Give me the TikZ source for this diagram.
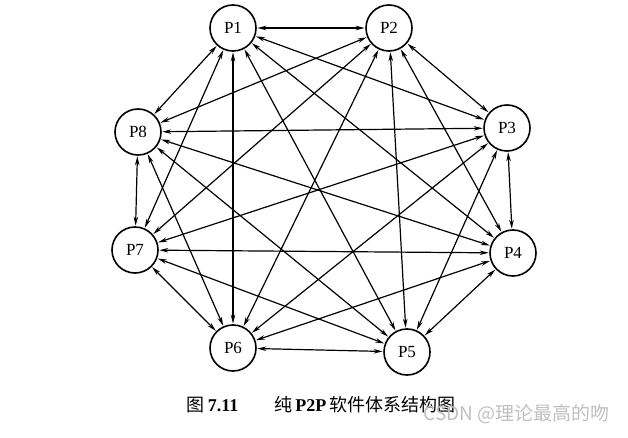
\documentclass[tikz,border=0pt]{standalone}
\usepackage{fontspec}
\setmainfont{Liberation Serif}
\newfontfamily\cjk{Noto Sans CJK SC}
\usetikzlibrary{arrows.meta}
\begin{document}
\begin{tikzpicture}[x=1pt,y=-1pt,
  peer/.style={circle,draw,line width=1.6pt,minimum size=46pt,inner sep=0pt,font=\fontsize{17}{17}\selectfont},
  link/.style={line width=1.2pt,{Stealth[length=9pt,width=4.5pt]}-{Stealth[length=9pt,width=4.5pt]},shorten <=0.5pt,shorten >=0.5pt}]
\useasboundingbox (0,0) rectangle (628,438);
\node[peer] (P1) at (233,28) {P1};
\node[peer] (P2) at (389,28) {P2};
\node[peer] (P3) at (507,128) {P3};
\node[peer] (P4) at (513,253) {P4};
\node[peer] (P5) at (407,352) {P5};
\node[peer] (P6) at (233,348) {P6};
\node[peer] (P7) at (135,250) {P7};
\node[peer] (P8) at (138,132) {P8};
\foreach \a/\b in {1/2,1/3,1/4,1/5,1/6,1/7,1/8,2/3,2/4,2/5,2/6,2/7,2/8,3/4,3/5,3/6,3/7,3/8,4/5,4/6,4/7,4/8,5/6,5/7,5/8,6/7,6/8,7/8}
  \draw[link] (P\a) -- (P\b);
\node[font=\fontsize{18}{18}\selectfont] (cap) at (321,405) {{\cjk 图}\,\textbf{7.11}\qquad{\cjk 纯}\,\textbf{P2P}\,{\cjk 软件体系结构图}};
\node[font=\fontsize{19}{19}\selectfont,text=gray!50,anchor=west] (wm) at (420,414) {{\cjk CSDN @理论最高的吻}};
\end{tikzpicture}
\end{document}
